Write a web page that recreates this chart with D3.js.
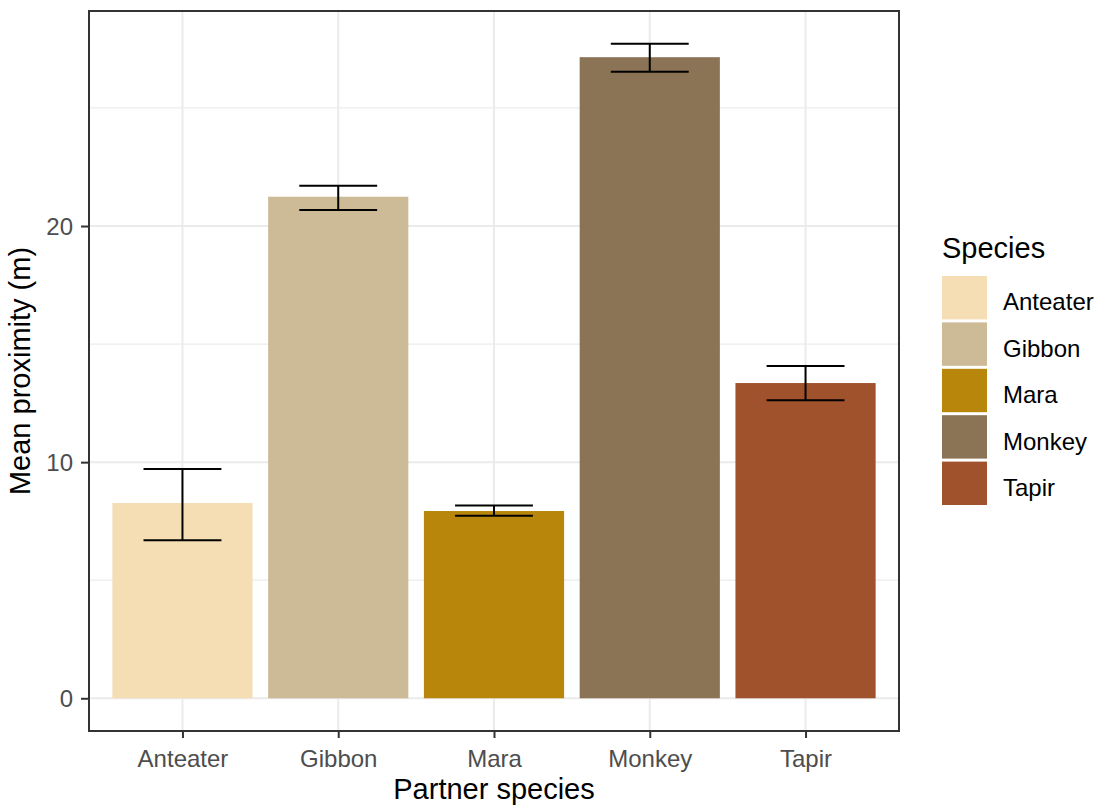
<!DOCTYPE html>
<html>
<head>
<meta charset="utf-8">
<script src="https://cdn.jsdelivr.net/npm/d3@7"></script>
<style>
  body { margin: 0; background: #fff; }
  text { font-family: "Liberation Sans", Arial, sans-serif; }
</style>
</head>
<body>
<div id="chart"></div>
<script>
// data
var species = ["Anteater", "Gibbon", "Mara", "Monkey", "Tapir"];
var meanProx = [8.27, 21.24, 7.93, 27.15, 13.35];
var errLow = [6.69, 20.68, 7.73, 26.53, 12.62];
var errHigh = [9.71, 21.71, 8.16, 27.72, 14.07];
var colours = ["#F5DEB3", "#CDBA96", "#B8860B", "#8B7355", "#A0522D"];
var yTicks = [0, 10, 20];
var yMinor = [5, 15, 25];

var width = 1099, height = 805;
var panel = { left: 89, right: 899, top: 11, bottom: 731 };

var svg = d3.select("#chart").append("svg")
    .attr("width", width)
    .attr("height", height);

// ggplot style 5% expansion on the y range
var yMax = d3.max(errHigh);
var y = d3.scaleLinear()
    .domain([-0.05 * yMax, 1.05 * yMax])
    .range([panel.bottom, panel.top]);

// discrete axis with 0.6 expansion each side
var x = d3.scalePoint()
    .domain(species)
    .range([panel.left, panel.right])
    .padding(0.6);
var step = x.step();

var g = svg.append("g");

// grid lines
g.selectAll(".minor").data(yMinor).enter().append("line")
    .attr("x1", panel.left).attr("x2", panel.right)
    .attr("y1", function(d) { return y(d); })
    .attr("y2", function(d) { return y(d); })
    .attr("stroke", "#EBEBEB").attr("stroke-width", 1.2);

g.selectAll(".major").data(yTicks).enter().append("line")
    .attr("x1", panel.left).attr("x2", panel.right)
    .attr("y1", function(d) { return y(d); })
    .attr("y2", function(d) { return y(d); })
    .attr("stroke", "#EBEBEB").attr("stroke-width", 2);

g.selectAll(".vgrid").data(species).enter().append("line")
    .attr("x1", function(d) { return x(d); })
    .attr("x2", function(d) { return x(d); })
    .attr("y1", panel.top).attr("y2", panel.bottom)
    .attr("stroke", "#EBEBEB").attr("stroke-width", 2);

// bars
g.selectAll(".bar").data(species).enter().append("rect")
    .attr("x", function(d) { return x(d) - step * 0.45; })
    .attr("width", step * 0.9)
    .attr("y", function(d, i) { return y(meanProx[i]); })
    .attr("height", function(d, i) { return y(0) - y(meanProx[i]); })
    .attr("fill", function(d, i) { return colours[i]; });

// error bars
var eb = g.selectAll(".err").data(species).enter().append("g")
    .attr("stroke", "#000").attr("stroke-width", 2).attr("fill", "none");
eb.append("line")
    .attr("x1", function(d) { return x(d); })
    .attr("x2", function(d) { return x(d); })
    .attr("y1", function(d, i) { return y(errLow[i]); })
    .attr("y2", function(d, i) { return y(errHigh[i]); });
eb.append("line")
    .attr("x1", function(d) { return x(d) - step * 0.25; })
    .attr("x2", function(d) { return x(d) + step * 0.25; })
    .attr("y1", function(d, i) { return y(errLow[i]); })
    .attr("y2", function(d, i) { return y(errLow[i]); });
eb.append("line")
    .attr("x1", function(d) { return x(d) - step * 0.25; })
    .attr("x2", function(d) { return x(d) + step * 0.25; })
    .attr("y1", function(d, i) { return y(errHigh[i]); })
    .attr("y2", function(d, i) { return y(errHigh[i]); });

// panel border
svg.append("rect")
    .attr("x", panel.left).attr("y", panel.top)
    .attr("width", panel.right - panel.left)
    .attr("height", panel.bottom - panel.top)
    .attr("fill", "none").attr("stroke", "#333333").attr("stroke-width", 2);

// axes
var yAxis = svg.append("g")
    .attr("transform", "translate(" + panel.left + ",0)")
    .call(d3.axisLeft(y).tickValues(yTicks).tickSize(8).tickPadding(8));
var xAxis = svg.append("g")
    .attr("transform", "translate(0," + panel.bottom + ")")
    .call(d3.axisBottom(x).tickSize(7).tickPadding(12));

[yAxis, xAxis].forEach(function(a) {
  a.select(".domain").remove();
  a.selectAll(".tick line").attr("stroke", "#333333").attr("stroke-width", 2);
  a.selectAll(".tick text")
      .attr("fill", "#4D4D4D")
      .style("font-size", "24px");
});
yAxis.selectAll(".tick text").attr("dy", "0.36em");

// axis titles
svg.append("text")
    .attr("x", (panel.left + panel.right) / 2)
    .attr("y", 799)
    .attr("text-anchor", "middle")
    .style("font-size", "29px")
    .attr("fill", "#000")
    .text("Partner species");

svg.append("text")
    .attr("transform", "translate(30," + ((panel.top + panel.bottom) / 2) + ") rotate(-90)")
    .attr("text-anchor", "middle")
    .style("font-size", "29px")
    .attr("fill", "#000")
    .text("Mean proximity (m)");

// legend
var legend = svg.append("g").attr("transform", "translate(942,0)");
legend.append("text")
    .attr("x", 0).attr("y", 258)
    .style("font-size", "29px")
    .attr("fill", "#000")
    .text("Species");

var keyH = 46.4;
var items = legend.selectAll(".key").data(species).enter().append("g")
    .attr("transform", function(d, i) { return "translate(0," + (274.5 + i * keyH) + ")"; });
items.append("rect")
    .attr("x", 0).attr("y", 1.5)
    .attr("width", 45).attr("height", keyH - 3)
    .attr("fill", function(d, i) { return colours[i]; });
items.append("text")
    .attr("x", 61).attr("y", keyH / 2 + 4)
    .attr("dy", "0.36em")
    .style("font-size", "24px")
    .attr("fill", "#000")
    .text(function(d) { return d; });
</script>
</body>
</html>
